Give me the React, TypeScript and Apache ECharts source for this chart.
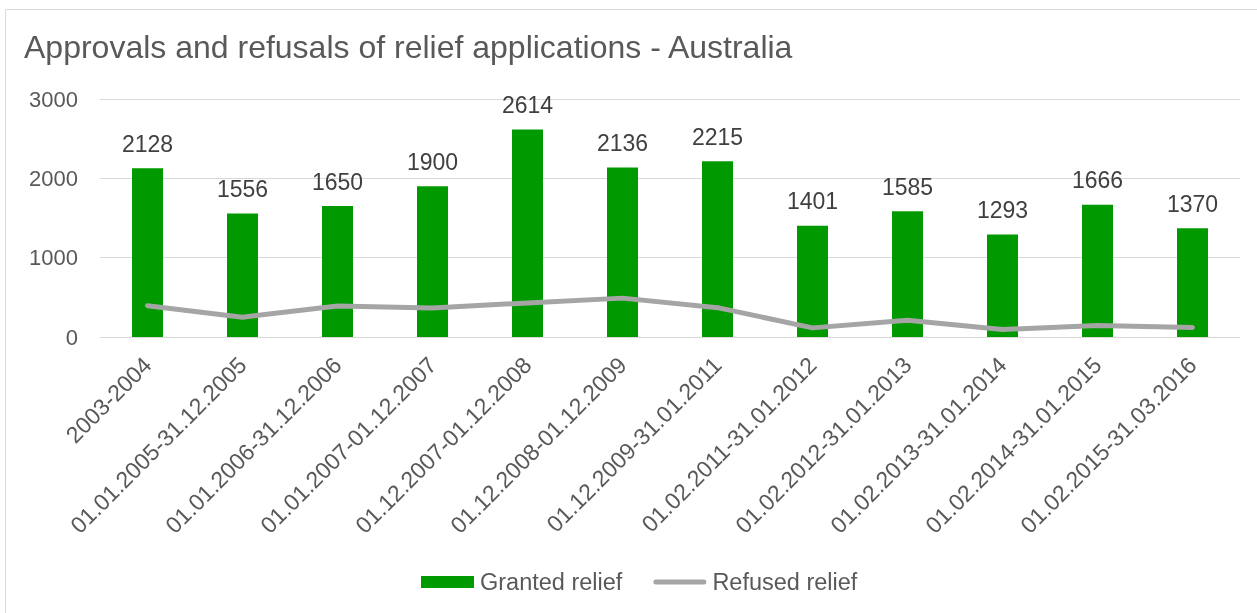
import React, { useEffect, useRef } from "react";
import * as echarts from "echarts";

const categories = [
  "2003-2004",
  "01.01.2005-31.12.2005",
  "01.01.2006-31.12.2006",
  "01.01.2007-01.12.2007",
  "01.12.2007-01.12.2008",
  "01.12.2008-01.12.2009",
  "01.12.2009-31.01.2011",
  "01.02.2011-31.01.2012",
  "01.02.2012-31.01.2013",
  "01.02.2013-31.01.2014",
  "01.02.2014-31.01.2015",
  "01.02.2015-31.03.2016",
];
const granted = [2128, 1556, 1650, 1900, 2614, 2136, 2215, 1401, 1585, 1293, 1666, 1370];
const refused = [395, 250, 390, 365, 430, 490, 370, 115, 210, 95, 145, 120];
const yTicks = [0, 1000, 2000, 3000];

const FONT = "'Liberation Sans', Arial, sans-serif";

export default function App() {
  const ref = useRef<HTMLDivElement>(null);
  useEffect(() => {
    if (!ref.current) return;
    const chart = echarts.init(ref.current, null, { renderer: "svg" });
    chart.setOption({
      animation: false,
      textStyle: { fontFamily: FONT },
      title: {
        text: "Approvals and refusals of relief applications - Australia",
        left: 19,
        top: 26,
        textStyle: { fontFamily: FONT, fontSize: 32, fontWeight: "normal", color: "#595959" },
      },
      graphic: [
        {
          type: "rect",
          shape: { x: 5.5, y: 9.5, width: 1260, height: 610 },
          style: { fill: "none", stroke: "#d9d9d9", lineWidth: 1 },
          silent: true,
        },
      ],
      legend: {
        bottom: 14,
        left: 416,
        itemGap: 31,
        itemWidth: 53,
        itemHeight: 12,
        symbolKeepAspect: true,
        textStyle: { fontFamily: FONT, fontSize: 23.5, color: "#595959", padding: [0, 0, 0, 1] },
        data: [
          { name: "Granted relief", icon: "rect" },
          {
            name: "Refused relief",
            icon: "path://M2.5,0 L50.5,0 A2.5,2.5 0 0 1 50.5,5 L2.5,5 A2.5,2.5 0 0 1 2.5,0 Z",
          },
        ],
      },
      grid: { left: 100, right: 17, top: 99, bottom: 276, containLabel: false },
      xAxis: {
        type: "category",
        data: categories,
        axisLine: { lineStyle: { color: "#d9d9d9", width: 1 } },
        axisTick: { show: false },
        axisLabel: {
          rotate: 45,
          interval: 0,
          margin: 24,
          fontFamily: FONT,
          fontSize: 23,
          color: "#595959",
        },
      },
      yAxis: {
        type: "value",
        min: yTicks[0],
        max: yTicks[yTicks.length - 1],
        interval: 1000,
        axisLine: { show: false },
        axisTick: { show: false },
        splitLine: { lineStyle: { color: "#d9d9d9", width: 1 } },
        axisLabel: {
          margin: 22,
          fontFamily: FONT,
          fontSize: 22,
          color: "#595959",
          formatter: (v: number) => String(v),
        },
      },
      series: [
        {
          name: "Granted relief",
          type: "bar",
          data: granted,
          barWidth: 31,
          itemStyle: { color: "#009900" },
          label: {
            show: true,
            position: "top",
            distance: 13,
            fontFamily: FONT,
            fontSize: 23,
            color: "#404040",
          },
        },
        {
          name: "Refused relief",
          type: "line",
          data: refused,
          symbol: "none",
          lineStyle: { color: "#a5a5a5", width: 5, cap: "round", join: "round" },
          itemStyle: { color: "#a5a5a5" },
        },
      ],
    });
    return () => chart.dispose();
  }, []);
  return (
    <div
      ref={ref}
      style={{ position: "fixed", left: 0, top: 0, width: 1257, height: 613 }}
    />
  );
}
